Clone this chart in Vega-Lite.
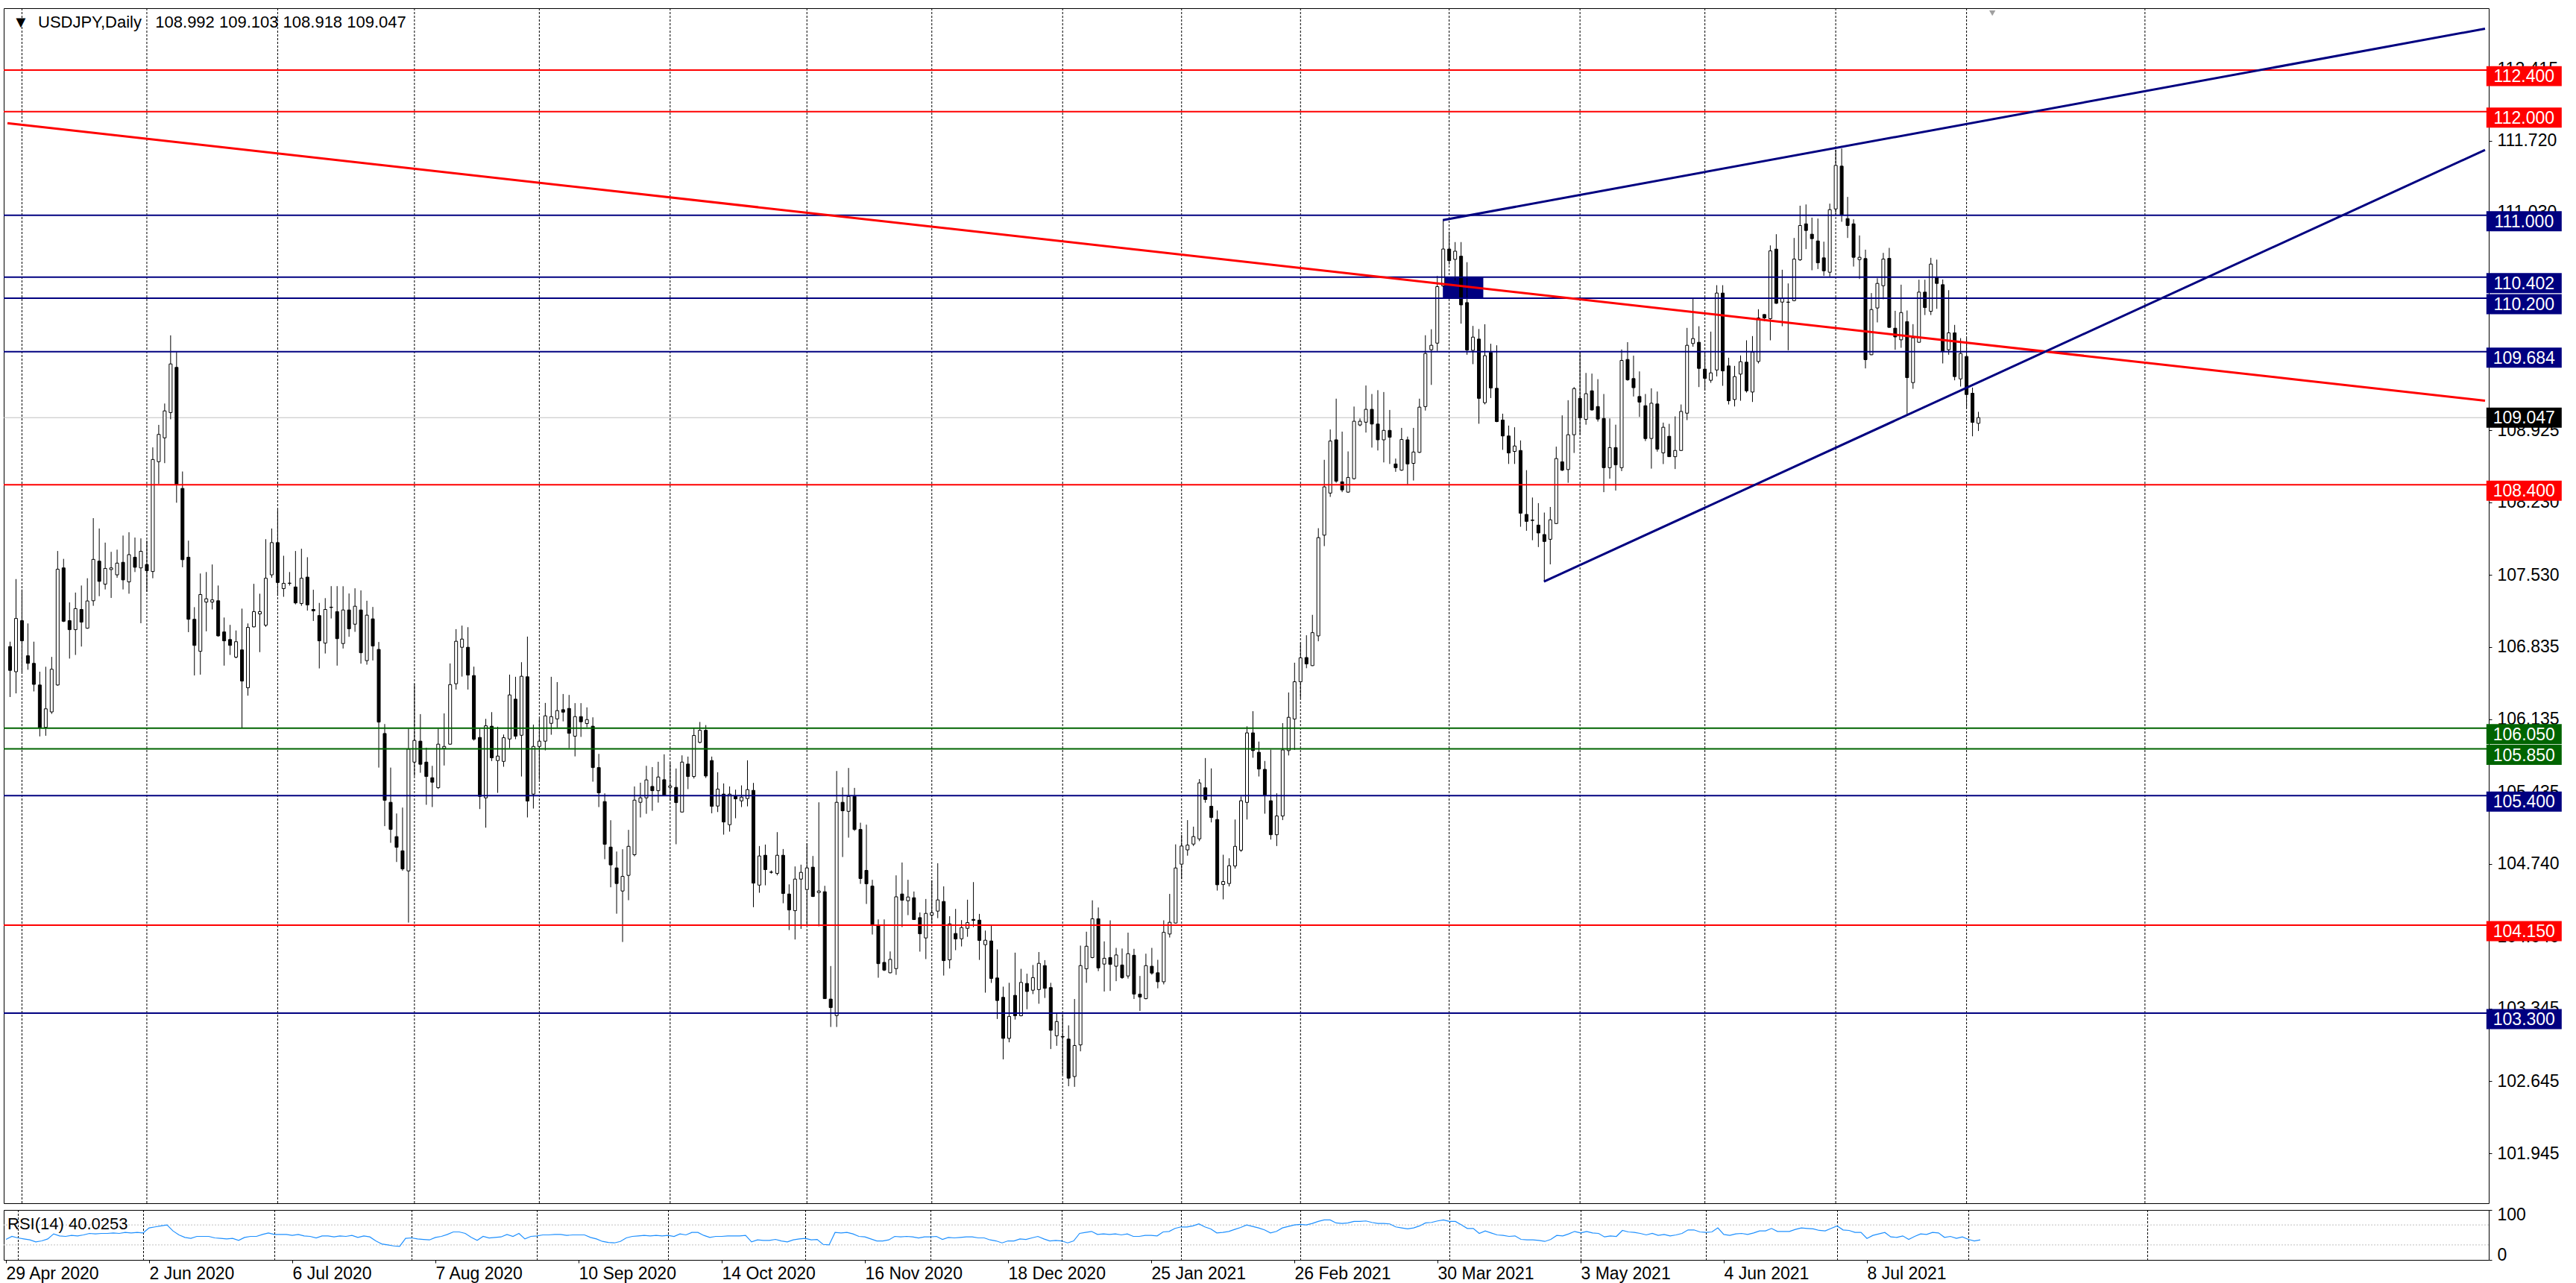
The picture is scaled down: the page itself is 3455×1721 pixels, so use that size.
{
"$schema": "https://vega.github.io/schema/vega-lite/v6.json",
"background": "white",
"padding": {"left": 3, "top": 10, "right": 0, "bottom": 0},
"spacing": 2,
"config": {"view": {"stroke": "black", "strokeWidth": 1}, "font": "Liberation Sans"},
"resolve": {"scale": {"y": "independent"}},
"datasets": {
"bars": [
{"i":0,"o":106.838,"h":106.885,"l":106.351,"c":106.608,"r":41},
{"i":1,"o":106.595,"h":107.489,"l":106.386,"c":107.109,"r":47},
{"i":2,"o":107.088,"h":107.389,"l":106.587,"c":106.893,"r":44},
{"i":3,"o":106.749,"h":107.061,"l":106.614,"c":106.676,"r":42},
{"i":4,"o":106.676,"h":106.885,"l":106.405,"c":106.473,"r":40},
{"i":5,"o":106.467,"h":106.595,"l":105.971,"c":106.053,"r":36},
{"i":6,"o":106.058,"h":106.643,"l":105.977,"c":106.237,"r":38},
{"i":7,"o":106.207,"h":106.738,"l":106.188,"c":106.619,"r":42},
{"i":8,"o":106.467,"h":107.760,"l":106.460,"c":107.584,"r":52},
{"i":9,"o":107.597,"h":107.684,"l":107.074,"c":107.082,"r":48},
{"i":10,"o":107.088,"h":107.264,"l":106.722,"c":107.001,"r":47},
{"i":11,"o":107.001,"h":107.359,"l":106.757,"c":107.204,"r":49},
{"i":12,"o":107.196,"h":107.427,"l":106.838,"c":107.074,"r":48},
{"i":13,"o":107.015,"h":107.497,"l":107.010,"c":107.278,"r":50},
{"i":14,"o":107.280,"h":108.077,"l":107.231,"c":107.679,"r":53},
{"i":15,"o":107.662,"h":107.977,"l":107.324,"c":107.467,"r":52},
{"i":16,"o":107.440,"h":107.841,"l":107.389,"c":107.592,"r":53},
{"i":17,"o":107.581,"h":107.752,"l":107.307,"c":107.597,"r":53},
{"i":18,"o":107.530,"h":107.773,"l":107.502,"c":107.643,"r":54},
{"i":19,"o":107.651,"h":107.909,"l":107.389,"c":107.481,"r":53},
{"i":20,"o":107.462,"h":107.941,"l":107.348,"c":107.725,"r":55},
{"i":21,"o":107.700,"h":107.890,"l":107.557,"c":107.603,"r":54},
{"i":22,"o":107.597,"h":107.882,"l":107.063,"c":107.757,"r":55},
{"i":23,"o":107.630,"h":107.860,"l":107.367,"c":107.570,"r":54},
{"i":24,"o":107.562,"h":108.760,"l":107.497,"c":108.643,"r":64},
{"i":25,"o":108.622,"h":108.977,"l":108.408,"c":108.885,"r":66},
{"i":26,"o":108.852,"h":109.183,"l":108.608,"c":109.112,"r":68},
{"i":27,"o":109.096,"h":109.841,"l":109.031,"c":109.565,"r":70},
{"i":28,"o":109.532,"h":109.679,"l":108.226,"c":108.405,"r":58},
{"i":29,"o":108.364,"h":108.527,"l":107.603,"c":107.676,"r":50},
{"i":30,"o":107.700,"h":107.860,"l":106.977,"c":107.101,"r":45},
{"i":31,"o":107.101,"h":107.218,"l":106.559,"c":106.849,"r":43},
{"i":32,"o":106.792,"h":107.543,"l":106.567,"c":107.340,"r":47},
{"i":33,"o":107.267,"h":107.557,"l":106.985,"c":107.299,"r":47},
{"i":34,"o":107.267,"h":107.630,"l":107.196,"c":107.288,"r":47},
{"i":35,"o":107.280,"h":107.427,"l":106.933,"c":106.941,"r":44},
{"i":36,"o":106.979,"h":107.118,"l":106.654,"c":106.893,"r":43},
{"i":37,"o":106.906,"h":107.047,"l":106.757,"c":106.849,"r":42},
{"i":38,"o":106.736,"h":106.993,"l":106.725,"c":106.885,"r":43},
{"i":39,"o":106.806,"h":107.204,"l":106.050,"c":106.505,"r":39},
{"i":40,"o":106.440,"h":107.061,"l":106.364,"c":107.023,"r":45},
{"i":41,"o":107.028,"h":107.443,"l":107.023,"c":107.175,"r":47},
{"i":42,"o":107.153,"h":107.348,"l":106.784,"c":107.175,"r":47},
{"i":43,"o":107.044,"h":107.874,"l":107.028,"c":107.497,"r":51},
{"i":44,"o":107.530,"h":107.977,"l":107.502,"c":107.841,"r":54},
{"i":45,"o":107.841,"h":108.161,"l":107.326,"c":107.456,"r":51},
{"i":46,"o":107.397,"h":107.714,"l":107.318,"c":107.448,"r":51},
{"i":47,"o":107.450,"h":107.557,"l":107.427,"c":107.448,"r":51},
{"i":48,"o":107.413,"h":107.760,"l":107.245,"c":107.259,"r":49},
{"i":49,"o":107.253,"h":107.782,"l":107.231,"c":107.497,"r":51},
{"i":50,"o":107.508,"h":107.700,"l":107.185,"c":107.240,"r":48},
{"i":51,"o":107.196,"h":107.386,"l":107.085,"c":107.183,"r":47},
{"i":52,"o":107.137,"h":107.259,"l":106.627,"c":106.893,"r":44},
{"i":53,"o":106.871,"h":107.305,"l":106.771,"c":107.196,"r":48},
{"i":54,"o":107.218,"h":107.421,"l":107.109,"c":107.215,"r":48},
{"i":55,"o":107.175,"h":107.421,"l":106.654,"c":106.914,"r":46},
{"i":56,"o":106.867,"h":107.420,"l":106.819,"c":107.191,"r":48},
{"i":57,"o":107.191,"h":107.350,"l":106.932,"c":107.009,"r":47},
{"i":58,"o":107.054,"h":107.400,"l":106.980,"c":107.227,"r":49},
{"i":59,"o":107.191,"h":107.380,"l":106.673,"c":106.778,"r":45},
{"i":60,"o":106.702,"h":107.280,"l":106.663,"c":107.141,"r":48},
{"i":61,"o":107.105,"h":107.220,"l":106.704,"c":106.843,"r":46},
{"i":62,"o":106.810,"h":106.882,"l":105.670,"c":106.109,"r":38},
{"i":63,"o":105.999,"h":106.090,"l":105.105,"c":105.354,"r":32},
{"i":64,"o":105.335,"h":105.670,"l":104.944,"c":105.073,"r":30},
{"i":65,"o":105.004,"h":105.227,"l":104.759,"c":104.901,"r":28},
{"i":66,"o":104.867,"h":105.284,"l":104.675,"c":104.692,"r":27},
{"i":67,"o":104.673,"h":106.045,"l":104.174,"c":105.848,"r":43},
{"i":68,"o":105.723,"h":106.476,"l":105.589,"c":105.932,"r":44},
{"i":69,"o":105.925,"h":106.186,"l":105.620,"c":105.702,"r":42},
{"i":70,"o":105.723,"h":105.862,"l":105.311,"c":105.584,"r":41},
{"i":71,"o":105.572,"h":105.687,"l":105.289,"c":105.529,"r":40},
{"i":72,"o":105.476,"h":106.045,"l":105.464,"c":105.896,"r":45},
{"i":73,"o":105.855,"h":106.193,"l":105.690,"c":105.874,"r":47},
{"i":74,"o":105.896,"h":106.675,"l":105.890,"c":106.471,"r":51},
{"i":75,"o":106.479,"h":107.006,"l":106.423,"c":106.889,"r":56},
{"i":76,"o":106.831,"h":107.040,"l":106.548,"c":106.910,"r":56},
{"i":77,"o":106.831,"h":107.025,"l":106.423,"c":106.563,"r":53},
{"i":78,"o":106.558,"h":106.644,"l":105.930,"c":105.944,"r":45},
{"i":79,"o":105.961,"h":106.045,"l":105.270,"c":105.392,"r":39},
{"i":80,"o":105.378,"h":106.140,"l":105.090,"c":106.073,"r":47},
{"i":81,"o":106.069,"h":106.205,"l":105.733,"c":105.764,"r":44},
{"i":82,"o":105.738,"h":106.064,"l":105.426,"c":105.781,"r":45},
{"i":83,"o":105.730,"h":105.989,"l":105.678,"c":105.958,"r":46},
{"i":84,"o":105.946,"h":106.567,"l":105.858,"c":106.371,"r":51},
{"i":85,"o":106.330,"h":106.546,"l":105.944,"c":105.973,"r":47},
{"i":86,"o":105.982,"h":106.687,"l":105.584,"c":106.551,"r":53},
{"i":87,"o":106.546,"h":106.934,"l":105.189,"c":105.347,"r":42},
{"i":88,"o":105.414,"h":106.085,"l":105.275,"c":105.874,"r":47},
{"i":89,"o":105.874,"h":106.143,"l":105.553,"c":105.925,"r":48},
{"i":90,"o":105.925,"h":106.294,"l":105.836,"c":106.169,"r":50},
{"i":91,"o":106.097,"h":106.546,"l":105.987,"c":106.162,"r":50},
{"i":92,"o":106.140,"h":106.495,"l":106.057,"c":106.220,"r":51},
{"i":93,"o":106.229,"h":106.380,"l":106.116,"c":106.205,"r":51},
{"i":94,"o":106.241,"h":106.371,"l":105.858,"c":106.001,"r":49},
{"i":95,"o":105.973,"h":106.292,"l":105.778,"c":106.162,"r":50},
{"i":96,"o":106.162,"h":106.292,"l":105.966,"c":106.112,"r":50},
{"i":97,"o":106.095,"h":106.251,"l":106.059,"c":106.133,"r":50},
{"i":98,"o":106.069,"h":106.155,"l":105.534,"c":105.670,"r":45},
{"i":99,"o":105.670,"h":105.802,"l":105.289,"c":105.426,"r":42},
{"i":100,"o":105.342,"h":105.421,"l":104.786,"c":104.930,"r":37},
{"i":101,"o":104.903,"h":105.162,"l":104.515,"c":104.731,"r":35},
{"i":102,"o":104.702,"h":104.860,"l":104.260,"c":104.551,"r":34},
{"i":103,"o":104.479,"h":104.882,"l":103.987,"c":104.620,"r":37},
{"i":104,"o":104.630,"h":105.069,"l":104.390,"c":104.910,"r":44},
{"i":105,"o":104.829,"h":105.488,"l":104.814,"c":105.356,"r":47},
{"i":106,"o":105.335,"h":105.524,"l":105.189,"c":105.378,"r":48},
{"i":107,"o":105.378,"h":105.687,"l":105.224,"c":105.551,"r":49},
{"i":108,"o":105.488,"h":105.675,"l":105.253,"c":105.447,"r":48},
{"i":109,"o":105.447,"h":105.726,"l":105.332,"c":105.579,"r":49},
{"i":110,"o":105.553,"h":105.798,"l":105.395,"c":105.400,"r":48},
{"i":111,"o":105.479,"h":105.718,"l":105.349,"c":105.493,"r":49},
{"i":112,"o":105.479,"h":105.661,"l":104.930,"c":105.332,"r":47},
{"i":113,"o":105.241,"h":105.788,"l":105.240,"c":105.723,"r":52},
{"i":114,"o":105.704,"h":105.776,"l":105.462,"c":105.584,"r":50},
{"i":115,"o":105.584,"h":106.050,"l":105.565,"c":105.980,"r":55},
{"i":116,"o":105.913,"h":106.110,"l":105.905,"c":106.030,"r":55},
{"i":117,"o":106.030,"h":106.080,"l":105.570,"c":105.589,"r":49},
{"i":118,"o":105.738,"h":105.776,"l":105.229,"c":105.296,"r":45},
{"i":119,"o":105.299,"h":105.625,"l":105.241,"c":105.462,"r":47},
{"i":120,"o":105.414,"h":105.517,"l":105.023,"c":105.145,"r":47},
{"i":121,"o":105.119,"h":105.488,"l":105.052,"c":105.414,"r":48},
{"i":122,"o":105.392,"h":105.457,"l":105.181,"c":105.368,"r":48},
{"i":123,"o":105.349,"h":105.498,"l":105.289,"c":105.385,"r":48},
{"i":124,"o":105.371,"h":105.740,"l":105.296,"c":105.457,"r":49},
{"i":125,"o":105.450,"h":105.522,"l":104.323,"c":104.555,"r":36},
{"i":126,"o":104.536,"h":104.913,"l":104.462,"c":104.817,"r":40},
{"i":127,"o":104.824,"h":104.927,"l":104.534,"c":104.685,"r":39},
{"i":128,"o":104.661,"h":104.678,"l":104.647,"c":104.660,"r":39},
{"i":129,"o":104.649,"h":105.047,"l":104.630,"c":104.824,"r":41},
{"i":130,"o":104.824,"h":104.884,"l":104.361,"c":104.455,"r":38},
{"i":131,"o":104.450,"h":104.543,"l":104.102,"c":104.296,"r":36},
{"i":132,"o":104.289,"h":104.716,"l":104.011,"c":104.594,"r":40},
{"i":133,"o":104.594,"h":104.733,"l":104.114,"c":104.659,"r":42},
{"i":134,"o":104.493,"h":104.939,"l":104.155,"c":104.702,"r":43},
{"i":135,"o":104.709,"h":104.817,"l":104.421,"c":104.426,"r":40},
{"i":136,"o":104.464,"h":105.335,"l":104.138,"c":104.479,"r":41},
{"i":137,"o":104.472,"h":104.529,"l":103.440,"c":103.440,"r":31},
{"i":138,"o":103.436,"h":103.755,"l":103.167,"c":103.354,"r":30},
{"i":139,"o":103.277,"h":105.637,"l":103.167,"c":105.335,"r":55},
{"i":140,"o":105.335,"h":105.479,"l":104.807,"c":105.253,"r":54},
{"i":141,"o":105.248,"h":105.666,"l":104.994,"c":105.392,"r":55},
{"i":142,"o":105.392,"h":105.474,"l":105.059,"c":105.073,"r":52},
{"i":143,"o":105.073,"h":105.138,"l":104.548,"c":104.599,"r":47},
{"i":144,"o":104.678,"h":105.119,"l":104.354,"c":104.548,"r":46},
{"i":145,"o":104.527,"h":104.587,"l":104.059,"c":104.155,"r":42},
{"i":146,"o":104.150,"h":104.205,"l":103.642,"c":103.778,"r":38},
{"i":147,"o":103.790,"h":104.205,"l":103.707,"c":103.716,"r":38},
{"i":148,"o":103.690,"h":103.896,"l":103.685,"c":103.819,"r":40},
{"i":149,"o":103.730,"h":104.630,"l":103.670,"c":104.423,"r":47},
{"i":150,"o":104.450,"h":104.754,"l":104.131,"c":104.390,"r":46},
{"i":151,"o":104.385,"h":104.587,"l":104.246,"c":104.421,"r":47},
{"i":152,"o":104.414,"h":104.474,"l":104.200,"c":104.203,"r":46},
{"i":153,"o":104.222,"h":104.272,"l":103.894,"c":104.066,"r":44},
{"i":154,"o":104.026,"h":104.402,"l":103.822,"c":104.263,"r":46},
{"i":155,"o":104.246,"h":104.582,"l":104.162,"c":104.270,"r":46},
{"i":156,"o":104.285,"h":104.747,"l":104.217,"c":104.393,"r":47},
{"i":157,"o":104.378,"h":104.524,"l":103.663,"c":103.807,"r":41},
{"i":158,"o":103.815,"h":104.236,"l":103.731,"c":104.162,"r":45},
{"i":159,"o":104.069,"h":104.306,"l":103.908,"c":104.016,"r":44},
{"i":160,"o":104.018,"h":104.198,"l":103.944,"c":104.126,"r":45},
{"i":161,"o":104.119,"h":104.395,"l":104.037,"c":104.174,"r":46},
{"i":162,"o":104.205,"h":104.565,"l":104.131,"c":104.196,"r":46},
{"i":163,"o":104.198,"h":104.258,"l":103.814,"c":104.002,"r":44},
{"i":164,"o":103.961,"h":104.097,"l":103.498,"c":104.004,"r":44},
{"i":165,"o":103.997,"h":104.146,"l":103.592,"c":103.635,"r":40},
{"i":166,"o":103.640,"h":103.915,"l":103.244,"c":103.422,"r":38},
{"i":167,"o":103.453,"h":103.556,"l":102.854,"c":103.057,"r":34},
{"i":168,"o":103.057,"h":103.593,"l":103.019,"c":103.269,"r":38},
{"i":169,"o":103.472,"h":103.884,"l":103.238,"c":103.275,"r":38},
{"i":170,"o":103.275,"h":103.728,"l":103.270,"c":103.597,"r":42},
{"i":171,"o":103.587,"h":103.681,"l":103.338,"c":103.509,"r":41},
{"i":172,"o":103.522,"h":103.765,"l":103.484,"c":103.643,"r":44},
{"i":173,"o":103.528,"h":103.890,"l":103.391,"c":103.781,"r":47},
{"i":174,"o":103.759,"h":103.812,"l":103.447,"c":103.540,"r":42},
{"i":175,"o":103.547,"h":103.593,"l":102.954,"c":103.135,"r":38},
{"i":176,"o":103.082,"h":103.297,"l":102.985,"c":103.219,"r":39},
{"i":177,"o":103.075,"h":103.291,"l":102.704,"c":103.070,"r":38},
{"i":178,"o":103.050,"h":103.182,"l":102.595,"c":102.673,"r":34},
{"i":179,"o":102.689,"h":103.437,"l":102.589,"c":102.988,"r":38},
{"i":180,"o":102.994,"h":103.952,"l":102.932,"c":103.759,"r":53},
{"i":181,"o":103.728,"h":104.086,"l":103.593,"c":103.946,"r":55},
{"i":182,"o":103.837,"h":104.389,"l":103.830,"c":104.211,"r":57},
{"i":183,"o":104.211,"h":104.320,"l":103.706,"c":103.737,"r":51},
{"i":184,"o":103.774,"h":103.993,"l":103.509,"c":103.830,"r":52},
{"i":185,"o":103.837,"h":104.196,"l":103.515,"c":103.771,"r":51},
{"i":186,"o":103.753,"h":103.930,"l":103.609,"c":103.862,"r":52},
{"i":187,"o":103.765,"h":103.924,"l":103.631,"c":103.643,"r":50},
{"i":188,"o":103.659,"h":104.077,"l":103.634,"c":103.874,"r":52},
{"i":189,"o":103.859,"h":103.921,"l":103.437,"c":103.484,"r":47},
{"i":190,"o":103.484,"h":103.659,"l":103.322,"c":103.456,"r":47},
{"i":191,"o":103.440,"h":103.874,"l":103.434,"c":103.759,"r":49},
{"i":192,"o":103.753,"h":103.930,"l":103.671,"c":103.687,"r":49},
{"i":193,"o":103.690,"h":103.815,"l":103.540,"c":103.603,"r":48},
{"i":194,"o":103.603,"h":104.196,"l":103.578,"c":104.080,"r":56},
{"i":195,"o":104.064,"h":104.451,"l":104.030,"c":104.177,"r":57},
{"i":196,"o":104.170,"h":104.929,"l":104.165,"c":104.701,"r":63},
{"i":197,"o":104.738,"h":105.022,"l":104.592,"c":104.913,"r":66},
{"i":198,"o":104.876,"h":105.163,"l":104.820,"c":104.922,"r":66},
{"i":199,"o":104.932,"h":105.100,"l":104.913,"c":105.004,"r":68},
{"i":200,"o":104.982,"h":105.559,"l":104.960,"c":105.522,"r":72},
{"i":201,"o":105.475,"h":105.762,"l":105.331,"c":105.362,"r":66},
{"i":202,"o":105.297,"h":105.662,"l":105.141,"c":105.188,"r":62},
{"i":203,"o":105.169,"h":105.256,"l":104.483,"c":104.539,"r":54},
{"i":204,"o":104.542,"h":104.829,"l":104.398,"c":104.570,"r":55},
{"i":205,"o":104.551,"h":104.795,"l":104.523,"c":104.723,"r":57},
{"i":206,"o":104.720,"h":105.169,"l":104.695,"c":104.910,"r":61},
{"i":207,"o":104.873,"h":105.391,"l":104.857,"c":105.350,"r":65},
{"i":208,"o":105.334,"h":106.068,"l":105.169,"c":106.005,"r":70},
{"i":209,"o":106.005,"h":106.214,"l":105.765,"c":105.834,"r":67},
{"i":210,"o":105.818,"h":105.921,"l":105.584,"c":105.656,"r":64},
{"i":211,"o":105.653,"h":105.734,"l":105.225,"c":105.406,"r":60},
{"i":212,"o":105.350,"h":105.843,"l":104.975,"c":105.022,"r":54},
{"i":213,"o":105.022,"h":105.422,"l":104.913,"c":105.203,"r":57},
{"i":214,"o":105.203,"h":106.099,"l":105.163,"c":105.840,"r":64},
{"i":215,"o":105.834,"h":106.395,"l":105.787,"c":106.155,"r":67},
{"i":216,"o":106.139,"h":106.682,"l":105.840,"c":106.498,"r":70},
{"i":217,"o":106.498,"h":106.872,"l":106.339,"c":106.729,"r":71},
{"i":218,"o":106.732,"h":106.947,"l":106.629,"c":106.670,"r":70},
{"i":219,"o":106.654,"h":107.144,"l":106.650,"c":106.972,"r":73},
{"i":220,"o":106.941,"h":107.980,"l":106.889,"c":107.889,"r":77},
{"i":221,"o":107.913,"h":108.640,"l":107.807,"c":108.379,"r":80},
{"i":222,"o":108.319,"h":108.933,"l":108.282,"c":108.821,"r":80},
{"i":223,"o":108.833,"h":109.230,"l":108.418,"c":108.434,"r":74},
{"i":224,"o":108.428,"h":108.912,"l":108.328,"c":108.349,"r":73},
{"i":225,"o":108.328,"h":108.721,"l":108.322,"c":108.470,"r":74},
{"i":226,"o":108.458,"h":109.154,"l":108.450,"c":109.012,"r":77},
{"i":227,"o":108.976,"h":109.039,"l":108.964,"c":109.012,"r":77},
{"i":228,"o":109.003,"h":109.357,"l":108.903,"c":109.127,"r":78},
{"i":229,"o":109.127,"h":109.275,"l":108.758,"c":108.985,"r":75},
{"i":230,"o":108.985,"h":109.312,"l":108.730,"c":108.833,"r":73},
{"i":231,"o":108.833,"h":109.294,"l":108.615,"c":108.924,"r":73},
{"i":232,"o":108.924,"h":109.121,"l":108.600,"c":108.858,"r":72},
{"i":233,"o":108.600,"h":108.652,"l":108.524,"c":108.564,"r":66},
{"i":234,"o":108.540,"h":108.948,"l":108.534,"c":108.836,"r":64},
{"i":235,"o":108.833,"h":108.864,"l":108.403,"c":108.600,"r":62},
{"i":236,"o":108.606,"h":108.948,"l":108.440,"c":108.715,"r":64},
{"i":237,"o":108.712,"h":109.230,"l":108.706,"c":109.148,"r":68},
{"i":238,"o":109.154,"h":109.842,"l":109.115,"c":109.666,"r":74},
{"i":239,"o":109.702,"h":109.900,"l":109.363,"c":109.745,"r":75},
{"i":240,"o":109.766,"h":110.414,"l":109.690,"c":110.311,"r":78},
{"i":241,"o":110.317,"h":110.953,"l":110.311,"c":110.674,"r":80},
{"i":242,"o":110.674,"h":110.841,"l":110.523,"c":110.562,"r":77},
{"i":243,"o":110.574,"h":110.741,"l":110.371,"c":110.653,"r":77},
{"i":244,"o":110.605,"h":110.741,"l":109.954,"c":110.135,"r":70},
{"i":245,"o":110.157,"h":110.547,"l":109.654,"c":109.699,"r":63},
{"i":246,"o":109.696,"h":109.932,"l":109.563,"c":109.824,"r":63},
{"i":247,"o":109.805,"h":109.902,"l":108.988,"c":109.233,"r":53},
{"i":248,"o":109.191,"h":109.948,"l":109.175,"c":109.645,"r":58},
{"i":249,"o":109.675,"h":109.760,"l":109.236,"c":109.333,"r":54},
{"i":250,"o":109.330,"h":109.745,"l":109.003,"c":109.009,"r":50},
{"i":251,"o":109.024,"h":109.085,"l":108.736,"c":108.870,"r":49},
{"i":252,"o":108.870,"h":108.970,"l":108.600,"c":108.706,"r":47},
{"i":253,"o":108.721,"h":108.954,"l":108.600,"c":108.773,"r":48},
{"i":254,"o":108.730,"h":108.827,"l":107.994,"c":108.125,"r":41},
{"i":255,"o":108.113,"h":108.540,"l":107.955,"c":108.046,"r":40},
{"i":256,"o":108.058,"h":108.276,"l":107.864,"c":108.055,"r":40},
{"i":257,"o":108.010,"h":108.222,"l":107.798,"c":107.934,"r":39},
{"i":258,"o":107.919,"h":108.131,"l":107.465,"c":107.852,"r":37},
{"i":259,"o":107.873,"h":108.185,"l":107.631,"c":108.061,"r":41},
{"i":260,"o":108.025,"h":108.767,"l":108.020,"c":108.652,"r":49},
{"i":261,"o":108.621,"h":109.069,"l":108.531,"c":108.540,"r":48},
{"i":262,"o":108.546,"h":109.215,"l":108.418,"c":108.882,"r":52},
{"i":263,"o":108.882,"h":109.342,"l":108.706,"c":109.327,"r":57},
{"i":264,"o":109.233,"h":109.684,"l":108.882,"c":109.045,"r":54},
{"i":265,"o":109.030,"h":109.478,"l":108.979,"c":109.278,"r":57},
{"i":266,"o":109.306,"h":109.472,"l":109.115,"c":109.121,"r":54},
{"i":267,"o":109.154,"h":109.418,"l":109.009,"c":109.033,"r":53},
{"i":268,"o":109.039,"h":109.275,"l":108.328,"c":108.564,"r":46},
{"i":269,"o":108.564,"h":109.039,"l":108.458,"c":108.758,"r":48},
{"i":270,"o":108.758,"h":108.979,"l":108.343,"c":108.591,"r":47},
{"i":271,"o":108.564,"h":109.705,"l":108.531,"c":109.599,"r":59},
{"i":272,"o":109.608,"h":109.775,"l":109.403,"c":109.412,"r":56},
{"i":273,"o":109.424,"h":109.645,"l":109.251,"c":109.336,"r":55},
{"i":274,"o":109.251,"h":109.493,"l":109.054,"c":109.197,"r":53},
{"i":275,"o":109.162,"h":109.275,"l":108.821,"c":108.845,"r":50},
{"i":276,"o":108.846,"h":109.330,"l":108.555,"c":109.186,"r":53},
{"i":277,"o":109.179,"h":109.299,"l":108.719,"c":108.743,"r":49},
{"i":278,"o":108.707,"h":108.999,"l":108.599,"c":108.954,"r":51},
{"i":279,"o":108.867,"h":108.987,"l":108.670,"c":108.670,"r":48},
{"i":280,"o":108.670,"h":109.059,"l":108.551,"c":108.730,"r":50},
{"i":281,"o":108.730,"h":109.174,"l":108.725,"c":109.107,"r":53},
{"i":282,"o":109.090,"h":109.913,"l":109.023,"c":109.745,"r":60},
{"i":283,"o":109.762,"h":110.198,"l":109.731,"c":109.810,"r":60},
{"i":284,"o":109.774,"h":109.929,"l":109.342,"c":109.522,"r":56},
{"i":285,"o":109.515,"h":109.690,"l":109.311,"c":109.426,"r":55},
{"i":286,"o":109.407,"h":109.877,"l":109.383,"c":109.479,"r":56},
{"i":287,"o":109.507,"h":110.325,"l":109.445,"c":110.249,"r":64},
{"i":288,"o":110.249,"h":110.325,"l":109.354,"c":109.498,"r":51},
{"i":289,"o":109.546,"h":109.625,"l":109.174,"c":109.210,"r":49},
{"i":290,"o":109.222,"h":109.546,"l":109.155,"c":109.443,"r":52},
{"i":291,"o":109.467,"h":109.647,"l":109.210,"c":109.587,"r":53},
{"i":292,"o":109.582,"h":109.793,"l":109.289,"c":109.306,"r":51},
{"i":293,"o":109.294,"h":109.834,"l":109.198,"c":109.678,"r":54},
{"i":294,"o":109.589,"h":110.093,"l":109.570,"c":110.009,"r":58},
{"i":295,"o":110.042,"h":110.045,"l":109.977,"c":110.009,"r":58},
{"i":296,"o":110.002,"h":110.709,"l":109.793,"c":110.656,"r":63},
{"i":297,"o":110.673,"h":110.817,"l":110.145,"c":110.150,"r":57},
{"i":298,"o":110.162,"h":110.474,"l":109.929,"c":110.198,"r":57},
{"i":299,"o":110.162,"h":110.342,"l":109.697,"c":110.160,"r":57},
{"i":300,"o":110.176,"h":110.781,"l":110.170,"c":110.577,"r":61},
{"i":301,"o":110.570,"h":111.092,"l":110.560,"c":110.901,"r":64},
{"i":302,"o":110.917,"h":111.104,"l":110.673,"c":110.853,"r":63},
{"i":303,"o":110.817,"h":110.977,"l":110.469,"c":110.774,"r":62},
{"i":304,"o":110.752,"h":110.968,"l":110.481,"c":110.541,"r":59},
{"i":305,"o":110.589,"h":110.745,"l":110.416,"c":110.464,"r":58},
{"i":306,"o":110.450,"h":111.112,"l":110.409,"c":111.054,"r":63},
{"i":307,"o":111.061,"h":111.632,"l":111.009,"c":111.481,"r":68},
{"i":308,"o":111.474,"h":111.644,"l":110.937,"c":111.002,"r":60},
{"i":309,"o":110.968,"h":111.177,"l":110.781,"c":110.901,"r":59},
{"i":310,"o":110.917,"h":110.961,"l":110.505,"c":110.594,"r":55},
{"i":311,"o":110.572,"h":110.805,"l":110.385,"c":110.594,"r":55},
{"i":312,"o":110.582,"h":110.668,"l":109.522,"c":109.606,"r":43},
{"i":313,"o":109.654,"h":110.249,"l":109.650,"c":110.090,"r":49},
{"i":314,"o":110.105,"h":110.392,"l":109.966,"c":110.342,"r":52},
{"i":315,"o":110.320,"h":110.637,"l":110.189,"c":110.577,"r":55},
{"i":316,"o":110.584,"h":110.685,"l":109.915,"c":109.918,"r":46},
{"i":317,"o":109.910,"h":110.078,"l":109.702,"c":109.826,"r":45},
{"i":318,"o":109.798,"h":110.330,"l":109.721,"c":110.061,"r":48},
{"i":319,"o":109.973,"h":110.081,"l":109.066,"c":109.433,"r":41},
{"i":320,"o":109.385,"h":109.949,"l":109.325,"c":109.817,"r":47},
{"i":321,"o":109.774,"h":110.378,"l":109.770,"c":110.258,"r":52},
{"i":322,"o":110.258,"h":110.378,"l":110.037,"c":110.109,"r":51},
{"i":323,"o":110.073,"h":110.589,"l":110.037,"c":110.529,"r":55},
{"i":324,"o":110.402,"h":110.572,"l":110.097,"c":110.342,"r":54},
{"i":325,"o":110.330,"h":110.380,"l":109.570,"c":109.690,"r":45},
{"i":326,"o":109.702,"h":110.277,"l":109.654,"c":109.865,"r":47},
{"i":327,"o":109.865,"h":109.942,"l":109.407,"c":109.443,"r":43},
{"i":328,"o":109.421,"h":109.814,"l":109.347,"c":109.666,"r":46},
{"i":329,"o":109.637,"h":109.814,"l":109.138,"c":109.270,"r":41},
{"i":330,"o":109.282,"h":109.337,"l":108.867,"c":109.001,"r":38},
{"i":331,"o":108.992,"h":109.103,"l":108.918,"c":109.047,"r":40.0253}
],
"levels": [
{"p":112.4,"zone":"major"},{"p":112.0,"zone":"major"},{"p":111.0,"zone":"minor"},{"p":110.402,"zone":"minor"},
{"p":110.2,"zone":"minor"},{"p":109.684,"zone":"minor"},{"p":108.4,"zone":"major"},{"p":106.05,"zone":"pivot"},
{"p":105.85,"zone":"pivot"},{"p":105.4,"zone":"minor"},{"p":104.15,"zone":"major"},{"p":103.3,"zone":"minor"}
],
"bid": [{"p":109.047}],
"trend": [
{"name":"falling","zone":"major","i":-0.375,"p":111.889},{"name":"falling","zone":"major","i":416.25,"p":109.21},
{"name":"upper","zone":"minor","i":241,"p":110.953},{"name":"upper","zone":"minor","i":416.25,"p":112.8},
{"name":"lower","zone":"minor","i":258,"p":107.465},{"name":"lower","zone":"minor","i":416.25,"p":111.63}
],
"box": [{"x1":241,"x2":247.8,"lo":110.2,"hi":110.402}],
"grid": [{"i":2},{"i":23},{"i":45},{"i":68},{"i":89},{"i":111},{"i":134},{"i":155},{"i":177},{"i":197},{"i":217},{"i":242},{"i":264},{"i":285},{"i":307},{"i":329},{"i":359}],
"rsilevels": [{"lvl":30},{"lvl":70}],
"shift": [{"i":333.4}],
"header": [{"t":"\u25bc\u00a0\u00a0USDJPY,Daily\u00a0\u00a0\u00a0108.992 109.103 108.918 109.047"}],
"rsiheader": [{"t":"RSI(14) 40.0253"}]
},
"vconcat": [
{
"width": 3333, "height": 1603,
"layer": [
{"data": {"name": "grid"}, "mark": {"type": "rule", "color": "black", "strokeWidth": 1, "strokeDash": [3, 2], "xOffset": 0.5},
 "encoding": {"x": {"field": "i", "type": "quantitative", "scale": {"domain": [-0.375, 416.25], "nice": false, "zero": false}, "axis": null}}},
{"data": {"name": "bid"}, "mark": {"type": "rule", "color": "#C0C0C0", "strokeWidth": 1},
 "encoding": {"y": {"field": "p", "type": "quantitative", "scale": {"domain": [101.466, 112.998], "nice": false, "zero": false},
  "axis": {"orient": "right", "title": null, "values": [112.415, 111.72, 111.03, 110.325, 109.625, 108.925, 108.23, 107.53, 106.835, 106.135, 105.435, 104.74, 104.04, 103.345, 102.645, 101.945], "format": ".3f", "labelFont": "Liberation Sans", "labelFontSize": 23, "labelColor": "black", "tickColor": "black", "tickSize": 4, "labelPadding": 7, "domain": false, "grid": false, "labelOverlap": false, "labelFlush": false, "labelBound": false, "zindex": 0}}}},
{"data": {"name": "box"}, "mark": {"type": "rect", "color": "#000080"},
 "encoding": {"x": {"field": "x1", "type": "quantitative", "scale": {"domain": [-0.375, 416.25], "nice": false, "zero": false}, "axis": null}, "x2": {"field": "x2"},
  "y": {"field": "lo", "type": "quantitative", "scale": {"domain": [101.466, 112.998], "nice": false, "zero": false}}, "y2": {"field": "hi"}}},
{"data": {"name": "bars"}, "mark": {"type": "rule", "color": "black", "strokeWidth": 1, "xOffset": 0.5},
 "encoding": {"x": {"field": "i", "type": "quantitative", "scale": {"domain": [-0.375, 416.25], "nice": false, "zero": false}, "axis": null},
  "y": {"field": "l", "type": "quantitative", "scale": {"domain": [101.466, 112.998], "nice": false, "zero": false}}, "y2": {"field": "h"}}},
{"data": {"name": "bars"}, "mark": {"type": "bar", "width": 4, "stroke": "black", "strokeWidth": 1, "xOffset": 0.5, "opacity": 1},
 "encoding": {"x": {"field": "i", "type": "quantitative", "scale": {"domain": [-0.375, 416.25], "nice": false, "zero": false}, "axis": null},
  "y": {"field": "o", "type": "quantitative", "scale": {"domain": [101.466, 112.998], "nice": false, "zero": false}}, "y2": {"field": "c"},
  "fill": {"condition": {"test": "datum.c >= datum.o", "value": "white"}, "value": "black"}}},
{"data": {"name": "levels"}, "mark": {"type": "rule", "strokeWidth": 2},
 "encoding": {"y": {"field": "p", "type": "quantitative", "scale": {"domain": [101.466, 112.998], "nice": false, "zero": false}},
  "color": {"field": "zone", "type": "nominal", "scale": {"domain": ["major", "minor", "pivot"], "range": ["#FF0000", "#000080", "#006400"]}, "legend": null}}},
{"data": {"name": "trend"}, "mark": {"type": "line", "strokeWidth": 3, "clip": true},
 "encoding": {"x": {"field": "i", "type": "quantitative", "scale": {"domain": [-0.375, 416.25], "nice": false, "zero": false}, "axis": null},
  "y": {"field": "p", "type": "quantitative", "scale": {"domain": [101.466, 112.998], "nice": false, "zero": false}},
  "detail": {"field": "name", "type": "nominal"},
  "color": {"field": "zone", "type": "nominal", "scale": {"domain": ["major", "minor", "pivot"], "range": ["#FF0000", "#000080", "#006400"]}, "legend": null}}},
{"data": {"name": "shift"}, "mark": {"type": "point", "shape": "triangle-down", "filled": true, "size": 70, "color": "#A0A0A0", "opacity": 1},
 "encoding": {"x": {"field": "i", "type": "quantitative", "scale": {"domain": [-0.375, 416.25], "nice": false, "zero": false}, "axis": null},
  "y": {"datum": 112.95, "type": "quantitative", "scale": {"domain": [101.466, 112.998], "nice": false, "zero": false}}}},
{"data": {"name": "header"}, "mark": {"type": "text", "font": "Liberation Sans", "fontSize": 22, "color": "black", "align": "left", "baseline": "alphabetic", "dx": 7, "dy": 26},
 "encoding": {"x": {"datum": -0.375, "type": "quantitative", "scale": {"domain": [-0.375, 416.25], "nice": false, "zero": false}, "axis": null},
  "y": {"datum": 112.998, "type": "quantitative", "scale": {"domain": [101.466, 112.998], "nice": false, "zero": false}},
  "text": {"field": "t", "type": "nominal"}}},
{"data": {"name": "levels"}, "mark": {"type": "point", "shape": "M-1,-0.2673L1,-0.2673L1,0.2673L-1,0.2673Z", "filled": true, "size": 10201, "opacity": 1, "strokeWidth": 0, "yOffset": 8, "clip": false},
 "encoding": {"x": {"datum": 422.81, "type": "quantitative", "scale": {"domain": [-0.375, 416.25], "nice": false, "zero": false}, "axis": null},
  "y": {"field": "p", "type": "quantitative", "scale": {"domain": [101.466, 112.998], "nice": false, "zero": false}},
  "color": {"field": "zone", "type": "nominal", "scale": {"domain": ["major", "minor", "pivot"], "range": ["#FF0000", "#000080", "#006400"]}, "legend": null}}},
{"data": {"name": "levels"}, "mark": {"type": "text", "color": "white", "font": "Liberation Sans", "fontSize": 23, "align": "center", "baseline": "middle", "yOffset": 9, "clip": false},
 "encoding": {"x": {"datum": 422.81, "type": "quantitative", "scale": {"domain": [-0.375, 416.25], "nice": false, "zero": false}, "axis": null},
  "y": {"field": "p", "type": "quantitative", "scale": {"domain": [101.466, 112.998], "nice": false, "zero": false}},
  "text": {"field": "p", "type": "quantitative", "format": ".3f"}}},
{"data": {"name": "bid"}, "mark": {"type": "point", "shape": "M-1,-0.2673L1,-0.2673L1,0.2673L-1,0.2673Z", "filled": true, "size": 10201, "opacity": 1, "strokeWidth": 0, "color": "black", "clip": false},
 "encoding": {"x": {"datum": 422.81, "type": "quantitative", "scale": {"domain": [-0.375, 416.25], "nice": false, "zero": false}, "axis": null},
  "y": {"field": "p", "type": "quantitative", "scale": {"domain": [101.466, 112.998], "nice": false, "zero": false}}}},
{"data": {"name": "bid"}, "mark": {"type": "text", "color": "white", "font": "Liberation Sans", "fontSize": 23, "align": "center", "baseline": "middle", "yOffset": 1, "clip": false},
 "encoding": {"x": {"datum": 422.81, "type": "quantitative", "scale": {"domain": [-0.375, 416.25], "nice": false, "zero": false}, "axis": null},
  "y": {"field": "p", "type": "quantitative", "scale": {"domain": [101.466, 112.998], "nice": false, "zero": false}},
  "text": {"field": "p", "type": "quantitative", "format": ".3f"}}}
]
},
{
"width": 3333, "height": 67,
"layer": [
{"data": {"name": "grid"}, "mark": {"type": "rule", "color": "black", "strokeWidth": 1, "strokeDash": [3, 2], "xOffset": 0.5},
 "encoding": {"x": {"field": "i", "type": "quantitative", "scale": {"domain": [-0.375, 416.25], "nice": false, "zero": false}}}},
{"data": {"name": "rsilevels"}, "mark": {"type": "rule", "color": "#C0C0C0", "strokeWidth": 1, "strokeDash": [2, 2]},
 "encoding": {"y": {"field": "lvl", "type": "quantitative", "scale": {"domain": [0, 100], "nice": false, "zero": false}}}},
{"data": {"name": "bars"}, "mark": {"type": "line", "color": "#1E90FF", "strokeWidth": 1.2},
 "encoding": {"x": {"field": "i", "type": "quantitative", "scale": {"domain": [-0.375, 416.25], "nice": false, "zero": false},
   "axis": {"title": null, "values": [0, 24, 48, 72, 96, 120, 144, 168, 192, 216, 240, 264, 288, 312], "labelExpr": "['29 Apr 2020','2 Jun 2020','6 Jul 2020','7 Aug 2020','10 Sep 2020','14 Oct 2020','16 Nov 2020','18 Dec 2020','25 Jan 2021','26 Feb 2021','30 Mar 2021','3 May 2021','4 Jun 2021','8 Jul 2021'][round(datum.value/24)]", "labelAlign": "left", "labelBaseline": "top", "labelPadding": 3, "labelFont": "Liberation Sans", "labelFontSize": 23, "labelColor": "black", "tickColor": "black", "tickSize": 4, "domain": false, "grid": false, "labelFlush": false, "labelOverlap": false, "labelBound": false}},
  "y": {"field": "r", "type": "quantitative", "scale": {"domain": [0, 100], "nice": false, "zero": false},
   "axis": {"orient": "right", "title": null, "values": [0, 30, 70, 100], "labelFont": "Liberation Sans", "labelFontSize": 23, "labelColor": "black", "tickColor": "black", "tickSize": 4, "labelPadding": 7, "domain": false, "grid": false, "labelFlush": true, "labelFlushOffset": 5, "labelOverlap": false, "labelBound": false}}}},
{"data": {"name": "rsiheader"}, "mark": {"type": "text", "font": "Liberation Sans", "fontSize": 22, "color": "black", "align": "left", "baseline": "alphabetic", "dx": 5, "dy": 26},
 "encoding": {"x": {"datum": -0.375, "type": "quantitative", "scale": {"domain": [-0.375, 416.25], "nice": false, "zero": false}},
  "y": {"datum": 100, "type": "quantitative", "scale": {"domain": [0, 100], "nice": false, "zero": false}},
  "text": {"field": "t", "type": "nominal"}}}
]
}
]
}
